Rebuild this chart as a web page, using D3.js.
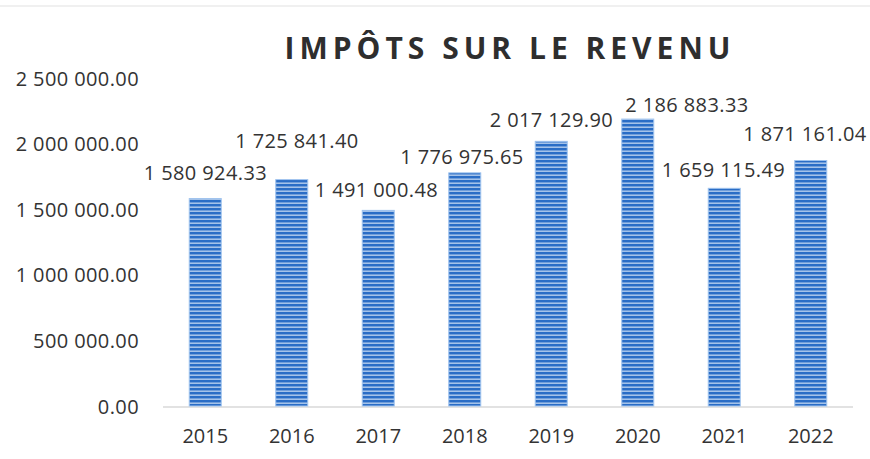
<!DOCTYPE html>
<html>
<head>
<meta charset="utf-8">
<script src="https://cdn.jsdelivr.net/npm/d3@7"></script>
<style>
  body { margin: 0; background: #fff; }
  svg text { font-family: "Open Sans", "Noto Sans", sans-serif; fill: #333; }
</style>
</head>
<body>
<div id="chart"></div>
<script>
// données du graphique
const years = ["2015", "2016", "2017", "2018", "2019", "2020", "2021", "2022"];
const values = [1580924.33, 1725841.40, 1491000.48, 1776975.65, 2017129.90, 2186883.33, 1659115.49, 1871161.04];
const tickValues = [0, 500000, 1000000, 1500000, 2000000, 2500000];
const title = "IMPÔTS SUR LE REVENU";

// décalage manuel des étiquettes (comme dans l'original Excel)
const labelDx = [0, 5, -2, -3, 0, 49, -1, -6];
const labelDy = [-26, -39, -21, -16, -22, -15, -19, -27];

const width = 870, height = 459;
const margin = { top: 78, right: 18, bottom: 53, left: 162 };

// format "1 580 924.33"
const fmt = v => {
    const [ent, dec] = v.toFixed(2).split(".");
    return ent.replace(/\B(?=(\d{3})+(?!\d))/g, " ") + "." + dec;
};

const svg = d3.select("#chart")
    .append("svg")
    .attr("width", width)
    .attr("height", height);

// motif rayé des barres
const defs = svg.append("defs");
const pat = defs.append("pattern")
    .attr("id", "stripes")
    .attr("patternUnits", "userSpaceOnUse")
    .attr("width", 8)
    .attr("height", 4);
pat.append("rect").attr("width", 8).attr("height", 4).attr("fill", "#2a6dc6");
pat.append("rect").attr("y", 2.6).attr("width", 8).attr("height", 1.1).attr("fill", "#d8e7f8");

const x = d3.scaleBand()
    .domain(years)
    .range([margin.left, width - margin.right + 2])
    .paddingInner(0.63)
    .paddingOuter(0.315);

const y = d3.scaleLinear()
    .domain([0, 2500000])
    .range([height - margin.bottom, margin.top]);

// cadre léger du scan
svg.append("line")
    .attr("x1", 0).attr("x2", width)
    .attr("y1", 6).attr("y2", 6)
    .attr("stroke", "#f0f0f0").attr("stroke-width", 2);

// titre
svg.append("text")
    .attr("x", 510)
    .attr("y", 59)
    .attr("text-anchor", "middle")
    .attr("font-size", "30px")
    .attr("font-weight", "bold")
    .attr("letter-spacing", "5px")
    .style("fill", "#2e2e2e")
    .text(title);

// axe Y (étiquettes seulement)
const yAxis = svg.append("g")
    .attr("transform", `translate(${139}, 0)`)
    .call(d3.axisLeft(y).tickValues(tickValues).tickSize(0).tickPadding(0).tickFormat(fmt));
yAxis.select(".domain").remove();
yAxis.selectAll("text")
    .attr("font-size", "20px")
    .attr("letter-spacing", "0.4px")
    .attr("dy", "0.35em");

// ligne de base
svg.append("line")
    .attr("x1", 163).attr("x2", 853)
    .attr("y1", y(0) + 1).attr("y2", y(0) + 1)
    .attr("stroke", "#d9d9d9")
    .attr("stroke-width", 1.5);

// barres
svg.selectAll("rect.bar")
    .data(values)
    .enter()
    .append("rect")
    .attr("class", "bar")
    .attr("x", (d, i) => x(years[i]))
    .attr("y", d => y(d))
    .attr("width", x.bandwidth())
    .attr("height", d => y(0) - y(d))
    .attr("fill", "url(#stripes)")
    .attr("stroke", "#9fc3ee")
    .attr("stroke-width", 1);

// étiquettes de valeur
svg.selectAll("text.label")
    .data(values)
    .enter()
    .append("text")
    .attr("class", "label")
    .attr("x", (d, i) => x(years[i]) + x.bandwidth() / 2 + labelDx[i] + 0.2)
    .attr("y", (d, i) => y(d) + labelDy[i])
    .attr("text-anchor", "middle")
    .attr("dominant-baseline", "central")
    .attr("font-size", "20px")
    .attr("letter-spacing", "0.4px")
    .text(d => fmt(d));

// axe X
const xAxis = svg.append("g")
    .attr("transform", `translate(0, ${y(0)})`)
    .call(d3.axisBottom(x).tickSize(0).tickPadding(0));
xAxis.select(".domain").remove();
xAxis.selectAll("text")
    .attr("font-size", "20px")
    .attr("y", 30)
    .attr("dy", "0.35em");
</script>
</body>
</html>
